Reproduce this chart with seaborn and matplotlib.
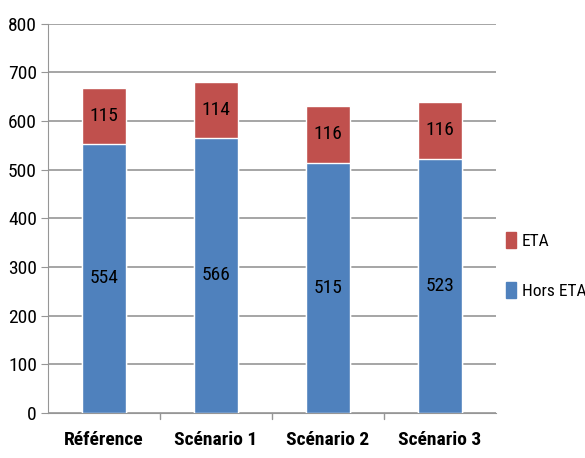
import pandas as pd
import matplotlib
matplotlib.use("Agg")
import matplotlib.pyplot as plt
import seaborn as sns
from matplotlib.patches import Patch

# ---------------------------------------------------
# Daten
# ---------------------------------------------------
categories = ["Référence", "Scénario 1", "Scénario 2", "Scénario 3"]
hors_eta = [554, 566, 515, 523]
eta = [115, 114, 116, 116]

BLUE = "#4F81BD"
RED = "#C0504D"

sns.set_style("white")
plt.rcParams["font.family"] = ["Liberation Sans Narrow", "Roboto Condensed", "Lato", "DejaVu Sans"]
plt.rcParams["text.color"] = "black"
plt.rcParams["xtick.color"] = "black"
plt.rcParams["ytick.color"] = "black"

df = pd.DataFrame({"cat": categories, "hors": hors_eta, "eta": eta})
df["total"] = df["hors"] + df["eta"]

fig = plt.figure(figsize=(5.85, 4.58), dpi=100)
ax = fig.add_axes([0.082, 0.098, 0.766, 0.85])

# rote Balken = Gesamt, blaue darüber = Hors ETA
sns.barplot(data=df, x="cat", y="total", color=RED, saturation=1, width=0.4, ax=ax, zorder=3)
sns.barplot(data=df, x="cat", y="hors", color=BLUE, saturation=1, width=0.4, ax=ax, zorder=3)

for i, row in df.iterrows():
    ax.text(i, row["hors"] / 2, str(row["hors"]), ha="center", va="center", fontsize=14, zorder=4)
    ax.text(i, row["hors"] + row["eta"] / 2, str(row["eta"]), ha="center", va="center", fontsize=14, zorder=4)

ax.set_ylim(0, 800)
ax.set_xlim(-0.5, 3.5)
ax.set_yticks(range(0, 801, 100))
ax.yaxis.grid(True, color="#969696", linewidth=1.2, zorder=0)
ax.set_xlabel("")
ax.set_ylabel("")

for side in ["top", "right"]:
    ax.spines[side].set_visible(False)
ax.spines["left"].set_color("#969696")
ax.spines["bottom"].set_color("#969696")

ax.tick_params(axis="y", labelsize=14, length=5, color="#969696", direction="out", left=True, pad=3)
ax.tick_params(axis="x", labelsize=14, length=0, pad=13)
for lbl in ax.get_xticklabels():
    lbl.set_fontweight("bold")

# Trennstriche zwischen Kategorien
for xpos in [0.5, 1.5, 2.5]:
    ax.plot([xpos, xpos], [0, -12], color="#969696", linewidth=1, clip_on=False)

handles = [Patch(color=RED, label="ETA"), Patch(color=BLUE, label="Hors ETA")]
fig.legend(handles=handles, loc="center left", bbox_to_anchor=(0.865, 0.42),
           frameon=False, fontsize=12.5, handlelength=0.6, handleheight=1.0,
           handletextpad=0.3, labelspacing=1.9, borderpad=0, borderaxespad=0)

fig.savefig("out.png", dpi=100)
